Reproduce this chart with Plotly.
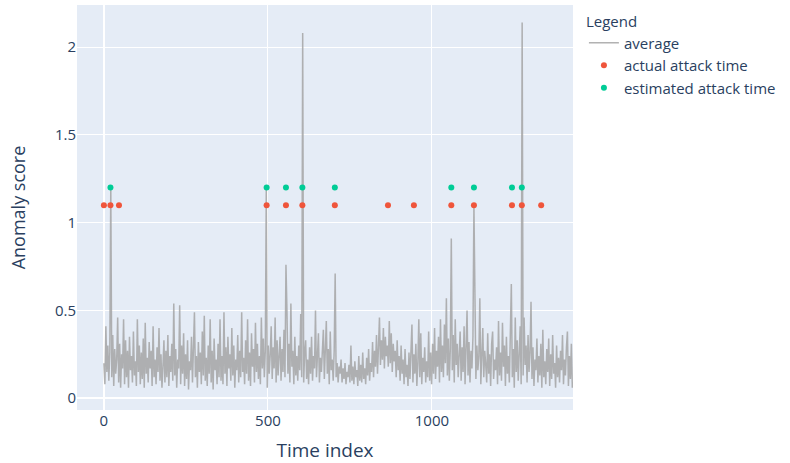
import plotly.graph_objects as go

avg_seg_a = [0.20, 0.08, 0.41, 0.15, 0.30, 0.10, 0.26, 1.20, 0.12, 0.36,
             0.07, 0.28, 0.14, 0.22, 0.46, 0.09, 0.31, 0.06, 0.25, 0.17,
             0.45, 0.08, 0.33, 0.12, 0.27, 0.06, 0.35, 0.16, 0.24, 0.09,
             0.38, 0.13, 0.21, 0.07, 0.45, 0.15, 0.30, 0.08, 0.26, 0.11,
             0.34, 0.06, 0.43, 0.14, 0.23, 0.09, 0.32, 0.17, 0.27, 0.07,
             0.41, 0.12, 0.22, 0.08, 0.29, 0.15, 0.40, 0.10, 0.25, 0.06]
avg_seg_b = [0.18, 0.33, 0.09, 0.27, 0.12, 0.36, 0.07, 0.24, 0.15, 0.31,
             0.10, 0.54, 0.13, 0.28, 0.06, 0.22, 0.17, 0.53, 0.08, 0.30,
             0.14, 0.37, 0.07, 0.25, 0.11, 0.33, 0.05, 0.21, 0.16, 0.35,
             0.09, 0.28, 0.49, 0.12, 0.24, 0.06, 0.32, 0.15, 0.26, 0.08,
             0.38, 0.13, 0.47, 0.10, 0.23, 0.07, 0.30, 0.14, 0.45, 0.09,
             0.27, 0.05, 0.34, 0.16, 0.22, 0.08, 0.31, 0.12, 0.45, 0.10]
avg_seg_c = [0.24, 0.08, 0.49, 0.14, 0.29, 0.07, 0.35, 0.17, 0.25, 0.10,
             0.40, 0.13, 0.30, 0.06, 0.22, 0.16, 0.36, 0.09, 0.27, 0.12,
             0.49, 0.15, 0.23, 0.08, 0.33, 0.14, 0.45, 0.10, 0.26, 0.07,
             0.37, 0.18, 0.28, 0.09, 0.43, 0.15, 0.31, 0.11, 0.24, 0.08,
             0.46, 0.17, 0.34, 0.12, 0.27, 1.19, 0.06, 0.30, 0.14, 0.25,
             0.41, 0.11, 0.29, 0.17, 0.46, 0.09, 0.33, 0.13, 0.22, 0.35]
avg_seg_d = [0.10, 0.28, 0.15, 0.39, 0.12, 0.76, 0.50, 0.14, 0.31, 0.09,
             0.54, 0.18, 0.27, 0.08, 0.35, 0.13, 0.24, 0.10, 0.30, 0.16,
             0.48, 0.12, 2.08, 0.09, 0.26, 0.33, 0.11, 0.22, 0.08, 0.29,
             0.14, 0.35, 0.10, 0.24, 0.17, 0.50, 0.12, 0.27, 0.37, 0.09,
             0.23, 0.15, 0.31, 0.39, 0.11, 0.25, 0.44, 0.14, 0.28, 0.08,
             0.38, 0.16, 0.22, 0.10, 0.27, 0.71, 0.12, 0.20, 0.09, 0.18]
avg_seg_e = [0.14, 0.22, 0.09, 0.17, 0.11, 0.20, 0.08, 0.15, 0.12, 0.19,
             0.09, 0.30, 0.10, 0.18, 0.08, 0.21, 0.12, 0.16, 0.07, 0.24,
             0.10, 0.19, 0.09, 0.26, 0.11, 0.17, 0.08, 0.23, 0.13, 0.28,
             0.10, 0.20, 0.15, 0.32, 0.12, 0.27, 0.18, 0.36, 0.14, 0.29,
             0.46, 0.19, 0.33, 0.22, 0.40, 0.17, 0.35, 0.24, 0.30, 0.18,
             0.44, 0.20, 0.37, 0.15, 0.31, 0.21, 0.27, 0.12, 0.33, 0.16]
avg_seg_f = [0.24, 0.10, 0.30, 0.14, 0.22, 0.08, 0.28, 0.12, 0.19, 0.07,
             0.26, 0.11, 0.33, 0.42, 0.09, 0.25, 0.14, 0.31, 0.07, 0.20,
             0.45, 0.12, 0.37, 0.08, 0.23, 0.15, 0.29, 0.09, 0.21, 0.12,
             0.38, 0.10, 0.26, 0.08, 0.31, 0.14, 0.40, 0.11, 0.27, 0.18,
             0.35, 0.09, 0.45, 0.15, 0.30, 0.12, 0.42, 0.20, 0.57, 0.13,
             0.34, 0.10, 0.28, 0.91, 0.16, 0.36, 0.09, 0.45, 0.19, 0.31]
avg_seg_g = [0.12, 0.26, 0.38, 0.10, 0.29, 0.15, 0.41, 0.08, 0.24, 0.50,
             0.13, 0.32, 0.09, 0.27, 0.17, 0.35, 1.10, 0.46, 0.11, 0.30,
             0.16, 0.24, 0.57, 0.08, 0.33, 0.40, 0.12, 0.27, 0.19, 0.09,
             0.37, 0.14, 0.25, 0.07, 0.31, 0.38, 0.11, 0.22, 0.16, 0.29,
             0.08, 0.44, 0.13, 0.26, 0.10, 0.43, 0.18, 0.30, 0.07, 0.35,
             0.14, 0.24, 0.09, 0.39, 0.65, 0.12, 0.28, 0.06, 0.46, 0.15]
avg_seg_h = [0.33, 0.10, 0.25, 0.41, 0.08, 2.14, 0.13, 0.46, 0.19, 0.30,
             0.09, 0.36, 0.15, 0.26, 0.55, 0.11, 0.29, 0.07, 0.22, 0.16,
             0.34, 0.09, 0.24, 0.13, 0.31, 0.06, 0.39, 0.12, 0.21, 0.08,
             0.28, 0.15, 0.34, 0.07, 0.25, 0.11, 0.36, 0.14, 0.20, 0.06,
             0.30, 0.12, 0.23, 0.09, 0.27, 0.16, 0.36, 0.08, 0.22, 0.13,
             0.29, 0.38, 0.07, 0.24, 0.11, 0.31, 0.06]
time_step = 3

# ---- attack markers ----
actual_attack_times = [0, 20, 46, 496, 555, 605, 704, 866, 945, 1059, 1128, 1244, 1274, 1333]
actual_attack_level = 1.1
estimated_attack_times = [20, 496, 555, 605, 704, 1059, 1128, 1244, 1274]
estimated_attack_level = 1.2

average = (avg_seg_a + avg_seg_b + avg_seg_c + avg_seg_d +
           avg_seg_e + avg_seg_f + avg_seg_g + avg_seg_h)
time_index = [i * time_step for i in range(len(average))]

fig = go.Figure()
fig.add_trace(go.Scatter(
    x=time_index, y=average, mode="lines", name="average",
    line=dict(color="rgba(165,165,165,0.85)", width=1.5)))
fig.add_trace(go.Scatter(
    x=actual_attack_times, y=[actual_attack_level] * len(actual_attack_times),
    mode="markers", name="actual attack time",
    marker=dict(color="#EF553B", size=6)))
fig.add_trace(go.Scatter(
    x=estimated_attack_times, y=[estimated_attack_level] * len(estimated_attack_times),
    mode="markers", name="estimated attack time",
    marker=dict(color="#00CC96", size=6)))

fig.update_layout(
    template="plotly",
    width=790, height=463,
    margin=dict(l=77, r=217, t=5, b=53, autoexpand=False),
    font=dict(family="Open Sans", size=15),
    legend=dict(title=dict(text="Legend", font=dict(size=15)), font=dict(size=15),
                x=1.022, y=0.995, tracegroupgap=0),
    xaxis=dict(title=dict(text="Time index", font=dict(size=19)),
               range=[-82, 1430], tickfont=dict(size=15),
               tickvals=[0, 500, 1000]),
    yaxis=dict(title=dict(text="Anomaly score", font=dict(size=18), standoff=24),
               range=[-0.067, 2.24], tickfont=dict(size=15),
               tickvals=[0, 0.5, 1, 1.5, 2]),
)
fig.write_html("out.html")
